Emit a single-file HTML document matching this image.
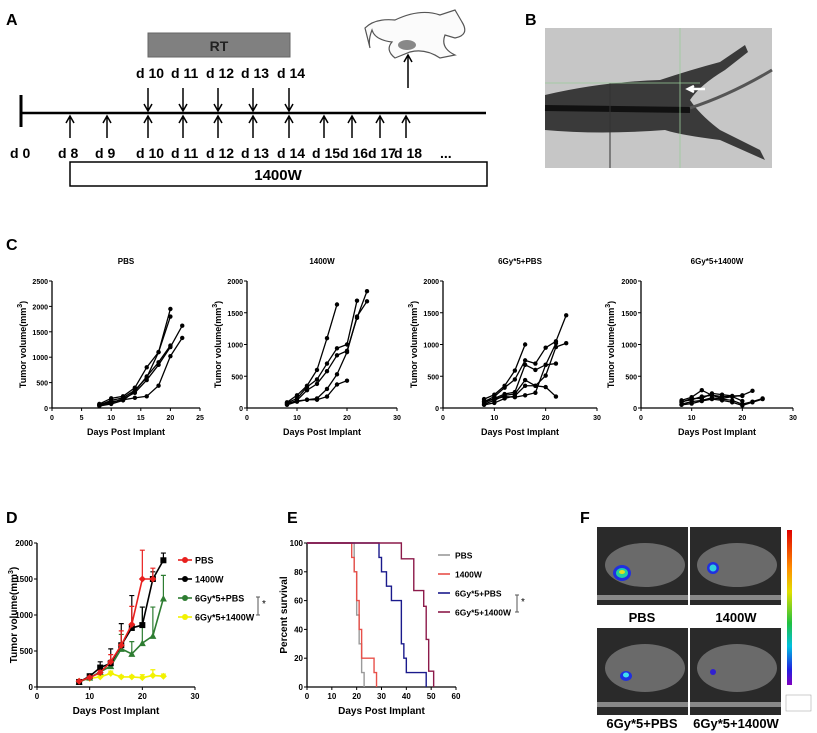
<!DOCTYPE html>
<html><head><meta charset="utf-8"><style>
html,body{margin:0;padding:0;background:#fff;}
svg{display:block;font-family:"Liberation Sans",Arial,sans-serif;}
</style></head><body>
<svg id="fig" width="817" height="733" viewBox="0 0 817 733" xmlns="http://www.w3.org/2000/svg">
<!-- Panel A -->
<g>
<text x="6" y="25" font-size="16" font-weight="bold">A</text>
<rect x="148" y="33" width="142" height="24" fill="#808080" stroke="#666"/>
<text x="219" y="51" font-size="14" text-anchor="middle" font-weight="bold" fill="#222">RT</text>
<line x1="20" y1="113" x2="486" y2="113" stroke="#000" stroke-width="2.5"/>
<line x1="21" y1="95" x2="21" y2="127" stroke="#000" stroke-width="3"/>
<rect x="70" y="162" width="417" height="24" fill="#fff" stroke="#000" stroke-width="1.5"/>
<text x="278" y="180" font-size="15" text-anchor="middle" font-weight="bold">1400W</text>
<g id="tl" font-size="14" font-weight="bold"></g>
<g fill="none" stroke="#555" stroke-width="1.2">
<path d="M395 20 Q420 8 440 15 L455 10 L462 22 Q470 35 455 38 L445 35 Q440 48 455 55 L440 58 Q425 48 410 52 L395 58 Q385 50 392 42 Q375 40 372 30 Q368 40 370 48 L365 28 Q375 18 395 20Z" fill="#fbfbfb"/>
<ellipse cx="407" cy="45" rx="9" ry="5" fill="#888" stroke="none"/>
<line x1="408" y1="55" x2="408" y2="88" stroke="#000" stroke-width="1.5"/>
<path d="M404 62 L408 55 L412 62" stroke="#000" stroke-width="1.5"/>
</g>
</g>
<!-- Panel B -->
<g>
<text x="525" y="25" font-size="16" font-weight="bold">B</text>
<rect x="545" y="28" width="227" height="140" fill="#c6c6c6"/>
<path d="M545 95 Q600 82 660 80 Q690 70 720 62 L745 45 L748 52 L725 70 Q700 85 690 100 Q700 115 720 130 L760 150 L765 160 L720 140 Q680 135 665 130 Q600 135 545 130Z" fill="#3a3a3a"/>
<path d="M545 108 L690 110" stroke="#111" stroke-width="6"/>
<path d="M690 108 Q730 95 772 70" stroke="#555" stroke-width="3" fill="none"/>
<line x1="610" y1="83" x2="610" y2="168" stroke="#333"/>
<line x1="680" y1="28" x2="680" y2="168" stroke="#9c9" stroke-width="0.8"/>
<line x1="545" y1="83" x2="700" y2="83" stroke="#9c9" stroke-width="0.8"/>
<path d="M705 89 L690 89 M694 86 L688 89 L694 92" stroke="#fff" stroke-width="2.5" fill="none"/>
</g>
<text x="6" y="250" font-size="16" font-weight="bold">C</text>
<text x="6" y="523" font-size="16" font-weight="bold">D</text>
<text x="287" y="523" font-size="16" font-weight="bold">E</text>
<text x="580" y="523" font-size="16" font-weight="bold">F</text>
<g id="charts"></g>
<!-- Panel F -->
<g>
<rect x="597" y="527" width="91" height="78" fill="#2a2a2a"/>
<rect x="690" y="527" width="91" height="78" fill="#2a2a2a"/>
<rect x="597" y="628" width="91" height="87" fill="#2a2a2a"/>
<rect x="690" y="628" width="91" height="87" fill="#2a2a2a"/>
<ellipse cx="645" cy="565" rx="40" ry="22" fill="#6a6a6a"/><ellipse cx="737" cy="565" rx="40" ry="22" fill="#6a6a6a"/>
<ellipse cx="645" cy="668" rx="40" ry="24" fill="#6a6a6a"/><ellipse cx="737" cy="668" rx="40" ry="24" fill="#6a6a6a"/>
<rect x="597" y="595" width="91" height="5" fill="#888"/><rect x="690" y="595" width="91" height="5" fill="#888"/>
<rect x="597" y="702" width="91" height="5" fill="#888"/><rect x="690" y="702" width="91" height="5" fill="#888"/>
<ellipse cx="622" cy="573" rx="9" ry="8" fill="#2030e0"/><ellipse cx="622" cy="573" rx="6" ry="5" fill="#20d0a0"/><ellipse cx="622" cy="572" rx="3" ry="2" fill="#e0e020"/>
<ellipse cx="713" cy="568" rx="6" ry="6" fill="#2030e0"/><ellipse cx="713" cy="568" rx="3.5" ry="3.5" fill="#30d0e0"/>
<ellipse cx="626" cy="676" rx="6" ry="5" fill="#2030e0"/><ellipse cx="626" cy="675" rx="3" ry="2.5" fill="#40e0f0"/>
<ellipse cx="713" cy="672" rx="3" ry="3" fill="#3020d0"/>
<defs><linearGradient id="cb" x1="0" y1="0" x2="0" y2="1"><stop offset="0" stop-color="#e00000"/><stop offset="0.25" stop-color="#ff9000"/><stop offset="0.4" stop-color="#e0e000"/><stop offset="0.6" stop-color="#20c040"/><stop offset="0.75" stop-color="#00c0e0"/><stop offset="0.9" stop-color="#2020e0"/><stop offset="1" stop-color="#8000c0"/></linearGradient></defs>
<rect x="787" y="530" width="5" height="155" fill="url(#cb)"/>
<rect x="786" y="695" width="25" height="16" fill="#fff" stroke="#999" stroke-width="0.5"/>
<text x="642" y="622" font-size="13" font-weight="bold" text-anchor="middle">PBS</text>
<text x="736" y="622" font-size="13" font-weight="bold" text-anchor="middle">1400W</text>
<text x="642" y="728" font-size="13" font-weight="bold" text-anchor="middle">6Gy*5+PBS</text>
<text x="736" y="728" font-size="13" font-weight="bold" text-anchor="middle">6Gy*5+1400W</text>
</g>
</svg>
<script>
const NS='http://www.w3.org/2000/svg';
// Panel A timeline data
const tlDaysBottom=['d 8','d 9','d 10','d 11','d 12','d 13','d 14','d 15','d 16','d 17','d 18'];
const tlDaysTop=['d 10','d 11','d 12','d 13','d 14'];
const tlX=[70,107,148,183,218,253,289,324,352,380,406];
// Panel C data
const days=[8,10,12,14,16,18,20,22,24];
const cPBS=[[80,190,230,400,800,1100,1950],[60,150,200,350,600,1100,1800],[50,100,180,300,550,850,1200,1620],[70,120,160,200,230,440,1020,1380],[40,80,150,330,620,900,1230]];
const c1400W=[[90,200,350,600,1100,1630],[80,150,330,450,700,940,1000,1690],[60,120,280,380,580,830,900,1420,1840],[50,100,130,150,300,530,880,1440,1680],[70,110,130,130,180,370,430]];
const cRT=[[140,210,350,590,1000],[100,180,320,450,750,700,950,1050,1460],[80,150,220,250,680,600,680,700],[60,120,200,220,440,350,510,960,1020],[50,80,150,190,350,350,330,180],[110,140,180,170,200,240,680,1020]];
const cRT1400W=[[120,170,280,200,180,180,200,270],[90,150,150,230,210,190,190],[60,100,120,160,140,120,60,100,150],[50,70,110,140,120,90,40,90,140],[100,130,180,200,150,180,110]];
const cTitles=['PBS','1400W','6Gy*5+PBS','6Gy*5+1400W'];
// Panel D data
const dNames=['PBS','1400W','6Gy*5+PBS','6Gy*5+1400W'];
const dColors=['#e8201e','#000000','#2e7d32','#f2f200'];
const dMean=[[80,130,200,350,580,870,1500,1500],[70,150,270,330,580,820,860,1500,1760],[70,130,210,290,530,460,610,710,1230],[80,120,140,190,140,140,130,160,150]];
const dErr=[[10,20,30,100,200,250,400,150],[10,30,80,200,300,450,250,100,100],[10,20,40,80,200,170,500,400,320],[5,10,20,30,20,20,40,80,30]];
// Panel E data
const eNames=['PBS','1400W','6Gy*5+PBS','6Gy*5+1400W'];
const eColors=['#9a9a9a','#e8504a','#1a1a8c','#8c1a4a'];
const eTimes=[[0,19,20,21,22,23],[0,18,19,20,21,22,27,28],[0,29,30,32,34,38,39,40,48],[0,38,43,47,48,49,51]];
const eSurv=[[100,80,50,30,10,0],[100,90,80,60,40,20,10,0],[100,90,80,70,60,30,20,10,0],[100,89,67,56,33,11,0]];

function el(tag,attrs,parent){const e=document.createElementNS(NS,tag);for(const k in attrs)e.setAttribute(k,attrs[k]);parent.appendChild(e);return e;}
function txt(s,attrs,parent){const t=el('text',attrs,parent);t.textContent=s;return t;}

const tl=document.getElementById('tl');
txt('d 0',{x:10,y:158},tl);
tlDaysBottom.forEach((d,i)=>{const x=tlX[i];
 const a=el('path',{d:`M${x} 138 L${x} 116 M${x-4} 123 L${x} 116 L${x+4} 123`,stroke:'#000','stroke-width':1.5,fill:'none'},tl);
 
 
 const t=txt(d,{x:x-12,y:158},tl);
 
 });
tlDaysTop.forEach((d,i)=>{const x=tlX[i+2];
 const a=el('path',{d:`M${x} 88 L${x} 111 M${x-4} 104 L${x} 111 L${x+4} 104`,stroke:'#000','stroke-width':1.5,fill:'none'},tl);
 
 
 const t=txt(d,{x:x-12,y:78},tl);
 
 });
txt('...',{x:440,y:158},tl);

const charts=document.getElementById('charts');
function axes(g,o){
 const sx=v=>o.x0+(v-o.xmin)/(o.xmax-o.xmin)*(o.x1-o.x0);
 const sy=v=>o.y0-(v-o.ymin)/(o.ymax-o.ymin)*(o.y0-o.y1);
 el('line',{x1:o.x0,y1:o.y0,x2:o.x1,y2:o.y0,stroke:'#000','stroke-width':1.3},g);
 el('line',{x1:o.x0,y1:o.y0,x2:o.x0,y2:o.y1,stroke:'#000','stroke-width':1.3},g);
 o.xt.forEach(v=>{el('line',{x1:sx(v),y1:o.y0,x2:sx(v),y2:o.y0+3,stroke:'#000'},g);
  txt(String(v),{x:sx(v),y:o.y0+12,'font-size':o.fs,'text-anchor':'middle','font-weight':'bold'},g);});
 o.yt.forEach(v=>{el('line',{x1:o.x0-3,y1:sy(v),x2:o.x0,y2:sy(v),stroke:'#000'},g);
  txt(String(v),{x:o.x0-4,y:sy(v)+3,'font-size':o.fs,'text-anchor':'end','font-weight':'bold'},g);});
 const xl=txt('Days Post Implant',{x:(o.x0+o.x1)/2,y:o.y0+27,'font-size':o.fs+2,'text-anchor':'middle','font-weight':'bold'},g);
 
 
 const yl=txt(o.ylab,{x:0,y:0,'font-size':o.fs+2,'text-anchor':'middle','font-weight':'bold',transform:`translate(${o.yx},${(o.y0+o.y1)/2}) rotate(-90)`},g);
 
 
 if(o.ysup){const ts=el('tspan',{dy:-4,'font-size':7},yl);ts.textContent='3';const t2=el('tspan',{dy:4},yl);t2.textContent=')';}
 return {sx,sy};
}
const cData=[cPBS,c1400W,cRT,cRT1400W];
const cBox=[{x0:52,x1:200,xmax:25,xt:[0,5,10,15,20,25],ymax:2500,yt:[0,500,1000,1500,2000,2500],yx:26},
 {x0:247,x1:397,xmax:30,xt:[0,10,20,30],ymax:2000,yt:[0,500,1000,1500,2000],yx:221},
 {x0:443,x1:597,xmax:30,xt:[0,10,20,30],ymax:2000,yt:[0,500,1000,1500,2000],yx:417},
 {x0:641,x1:793,xmax:30,xt:[0,10,20,30],ymax:2000,yt:[0,500,1000,1500,2000],yx:614}];
cData.forEach((series,ci)=>{
 const b=cBox[ci];
 const g=el('g',{},charts);
 
 
 const {sx,sy}=axes(g,{x0:b.x0,x1:b.x1,xmin:0,xmax:b.xmax,y0:408,y1:281,ymin:0,ymax:b.ymax,xt:b.xt,yt:b.yt,fs:7,ylab:'Tumor volume(mm',ysup:true,yx:b.yx});
 const t=txt(cTitles[ci],{x:(b.x0+b.x1)/2,y:264,'font-size':8,'text-anchor':'middle','font-weight':'bold'},g);
 
 
 series.forEach((s,si)=>{
  const pts=s.map((v,i)=>sx(days[i])+','+sy(v)).join(' ');
  const pl=el('polyline',{points:pts,fill:'none',stroke:'#000','stroke-width':1.3},g);
  
  
  s.forEach((v,i)=>{const c=el('circle',{cx:sx(days[i]),cy:sy(v),r:2.2,fill:'#000'},g);
   
   });
 });
});
// Panel D
(function(){
 const g=el('g',{},charts);
 
 
 const {sx,sy}=axes(g,{x0:37,x1:195,xmin:0,xmax:30,y0:687,y1:543,ymin:0,ymax:2000,xt:[0,10,20,30],yt:[0,500,1000,1500,2000],fs:8,ylab:'Tumor volume(mm',ysup:true,yx:17});
 [3,2,1,0].forEach(k=>{
  const m=dMean[k],col=dColors[k];
  m.forEach((v,i)=>{const x=sx(days[i]),y1=sy(v),y2=sy(v+dErr[k][i]);
   const e=el('path',{d:`M${x} ${y1} L${x} ${y2} M${x-2.5} ${y2} L${x+2.5} ${y2}`,stroke:col,'stroke-width':1.2},g);
   
   });
  const pl=el('polyline',{points:m.map((v,i)=>sx(days[i])+','+sy(v)).join(' '),fill:'none',stroke:col,'stroke-width':1.6},g);
  
  
  m.forEach((v,i)=>{const x=sx(days[i]),y=sy(v);let mk;
   if(k==1) mk=el('rect',{x:x-3,y:y-3,width:6,height:6,fill:col},g);
   else if(k==2) mk=el('path',{d:`M${x} ${y-3.5} L${x+3.5} ${y+3} L${x-3.5} ${y+3}Z`,fill:col},g);
   else mk=el('path',{d:`M${x} ${y-3.5} L${x+3.5} ${y} L${x} ${y+3.5} L${x-3.5} ${y}Z`,fill:col},g);
   
   });
 });
 dNames.forEach((n,k)=>{const y=560+k*19;
  const lg=el('g',{},g);
  
  
  el('line',{x1:178,y1:y,x2:192,y2:y,stroke:dColors[k],'stroke-width':1.6},lg);
  el('circle',{cx:185,cy:y,r:3,fill:dColors[k]},lg);
  txt(n,{x:195,y:y+3.5,'font-size':9,'font-weight':'bold'},lg);});
 el('path',{d:'M258 597 L258 615 M256 597 L260 597 M256 615 L260 615',stroke:'#555'},g);
 txt('*',{x:262,y:607,'font-size':10},g);
})();
// Panel E
(function(){
 const g=el('g',{},charts);
 
 
 const {sx,sy}=axes(g,{x0:307,x1:456,xmin:0,xmax:60,y0:687,y1:543,ymin:0,ymax:100,xt:[0,10,20,30,40,50,60],yt:[0,20,40,60,80,100],fs:8,ylab:'Percent survival',ysup:false,yx:287});
 eTimes.forEach((ts,k)=>{let d=`M${sx(ts[0])} ${sy(eSurv[k][0])}`;
  for(let i=1;i<ts.length;i++){d+=` L${sx(ts[i])} ${sy(eSurv[k][i-1])} L${sx(ts[i])} ${sy(eSurv[k][i])}`;}
  const p=el('path',{d:d,fill:'none',stroke:eColors[k],'stroke-width':1.4},g);
  
  });
 eNames.forEach((n,k)=>{const y=555+k*19;
  const lg=el('g',{},g);
  
  
  el('line',{x1:438,y1:y,x2:450,y2:y,stroke:eColors[k],'stroke-width':1.6},lg);
  txt(n,{x:455,y:y+3.5,'font-size':8.5,'font-weight':'bold'},lg);});
 el('path',{d:'M517 595 L517 612 M515 595 L519 595 M515 612 L519 612',stroke:'#555'},g);
 txt('*',{x:521,y:605,'font-size':10},g);
})();
</script>
</body></html>
